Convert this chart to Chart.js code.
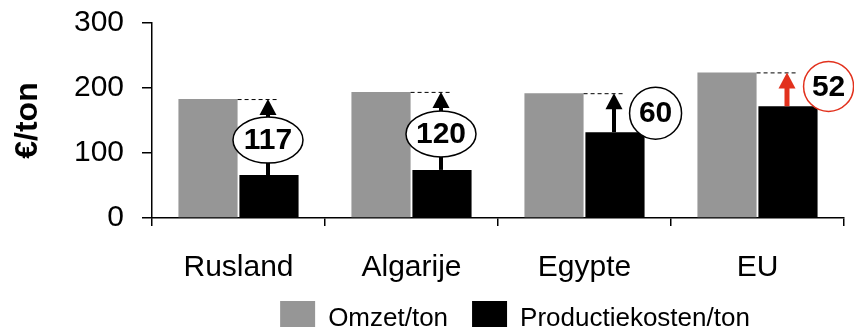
<!DOCTYPE html>
<html>
<head>
<meta charset="utf-8">
<script src="https://cdn.jsdelivr.net/npm/chart.js@4"></script>
<style>
  html, body { margin: 0; padding: 0; background: #fff; overflow: hidden; }
  #wrap { position: relative; width: 854px; height: 369px; margin-top: -13px; }
</style>
</head>
<body>
<div id="wrap"><canvas id="margeChart"></canvas></div>
<script>
// omzet en kosten per ton, per land
var landen = ['Rusland', 'Algarije', 'Egypte', 'EU'];
var omzetPerTon = [183, 194, 192, 224];
var kostenPerTon = [66, 74, 132, 172];
var marge = [117, 120, 60, 52];
var yTicks = [0, 100, 200, 300];

var FONT = "'Liberation Sans', Arial, sans-serif";
var GRIJS = '#969696';
var ROOD = '#e2311d';

function pijl(ctx, x, yVan, yTot, kleur, dikte) {
  var kop = 16;
  ctx.save();
  ctx.fillStyle = kleur;
  ctx.strokeStyle = kleur;
  ctx.lineWidth = dikte;
  ctx.beginPath();
  ctx.moveTo(x, yVan);
  ctx.lineTo(x, yTot + kop - 1);
  ctx.stroke();
  ctx.beginPath();
  ctx.moveTo(x, yTot);
  ctx.lineTo(x - 8.5, yTot + kop);
  ctx.lineTo(x + 8.5, yTot + kop);
  ctx.closePath();
  ctx.fill();
  ctx.restore();
}

function label(ctx, x, y, rx, ry, tekst, rand) {
  ctx.save();
  ctx.beginPath();
  ctx.ellipse(x, y, rx, ry, 0, 0, Math.PI * 2);
  ctx.fillStyle = '#fff';
  ctx.fill();
  ctx.lineWidth = 1.5;
  ctx.strokeStyle = rand;
  ctx.stroke();
  ctx.fillStyle = '#000';
  ctx.font = 'bold 30px ' + FONT;
  ctx.textAlign = 'center';
  ctx.textBaseline = 'middle';
  ctx.fillText(tekst, x, y + 1);
  ctx.restore();
}

// stippellijn, pijl en margelabel boven elke kostenstaaf
var margePlugin = {
  id: 'marge',
  afterLayout: function(chart) {
    // legenda iets naar rechts en dichter onder de aslabels
    chart.legend.left += 17;
    chart.legend.right += 17;
    chart.legend.top -= 10;
    chart.legend.bottom -= 10;
  },
  afterDatasetsDraw: function(chart) {
    var ctx = chart.ctx;
    var y = chart.scales.y;
    var grijs = chart.getDatasetMeta(0).data;
    var zwart = chart.getDatasetMeta(1).data;
    zwart.forEach(function(bar, i) {
      var yOmzet = y.getPixelForValue(omzetPerTon[i]);
      var yKosten = y.getPixelForValue(kostenPerTon[i]);
      var x = bar.x - 1;
      var nadruk = landen[i] === 'EU';
      var kleur = nadruk ? ROOD : '#000';

      ctx.save();
      ctx.setLineDash([4, 3]);
      ctx.lineWidth = 1;
      ctx.strokeStyle = '#000';
      ctx.beginPath();
      ctx.moveTo(grijs[i].x + grijs[i].width / 2, yOmzet + 0.5);
      ctx.lineTo(x + 9, yOmzet + 0.5);
      ctx.stroke();
      ctx.restore();

      pijl(ctx, x, yKosten, yOmzet, kleur, nadruk ? 5 : 4);

      var rechts = bar.x + bar.width / 2;
      if (marge[i] >= 100) {
        label(ctx, x, (yOmzet + yKosten) / 2 + 3, 35, 23, String(marge[i]), '#000');
      } else if (nadruk) {
        label(ctx, rechts + 11, yOmzet + 14, 25, 25, String(marge[i]), ROOD);
      } else {
        label(ctx, rechts + 11, yOmzet + 20, 26, 26, String(marge[i]), '#000');
      }
    });
  }
};

new Chart(document.getElementById('margeChart'), {
  type: 'bar',
  data: {
    labels: landen,
    datasets: [{
      label: 'Omzet/ton',
      data: omzetPerTon,
      backgroundColor: GRIJS,
      categoryPercentage: 0.705,
      barPercentage: 0.97
    }, {
      label: 'Productiekosten/ton',
      data: kostenPerTon,
      backgroundColor: '#000',
      categoryPercentage: 0.705,
      barPercentage: 0.97
    }]
  },
  options: {
    responsive: true,
    maintainAspectRatio: false,
    animation: false,
    layout: { padding: { top: 11, right: 10, left: 0, bottom: 0 } },
    plugins: {
      tooltip: { enabled: false },
      legend: {
        position: 'bottom',
        fullSize: false,
        labels: {
          boxWidth: 35,
          boxHeight: 35,
          padding: 24,
          color: '#000',
          font: { family: FONT, size: 26 }
        }
      }
    },
    scales: {
      x: {
        grid: { offset: true, drawOnChartArea: false, tickLength: 8, color: '#000', lineWidth: 1.5 },
        border: { color: '#000', width: 1.5 },
        ticks: { color: '#000', padding: 24, font: { family: FONT, size: 30 } },
        afterFit: function(s) { s.height = 69; }
      },
      y: {
        min: 0,
        max: 300,
        afterBuildTicks: function(s) { s.ticks = yTicks.map(function(v) { return { value: v }; }); },
        grid: { drawOnChartArea: false, tickLength: 10, color: '#000', lineWidth: 1.5 },
        border: { color: '#000', width: 1.5 },
        ticks: { color: '#000', padding: 18, font: { family: FONT, size: 30 } },
        title: {
          display: true,
          text: '€/ton',
          color: '#000',
          padding: { top: 9, bottom: 0 },
          font: { family: FONT, size: 32, weight: 'bold' }
        },
        afterFit: function(s) { s.width = 152; }
      }
    }
  },
  plugins: [margePlugin]
});
</script>
</body>
</html>
